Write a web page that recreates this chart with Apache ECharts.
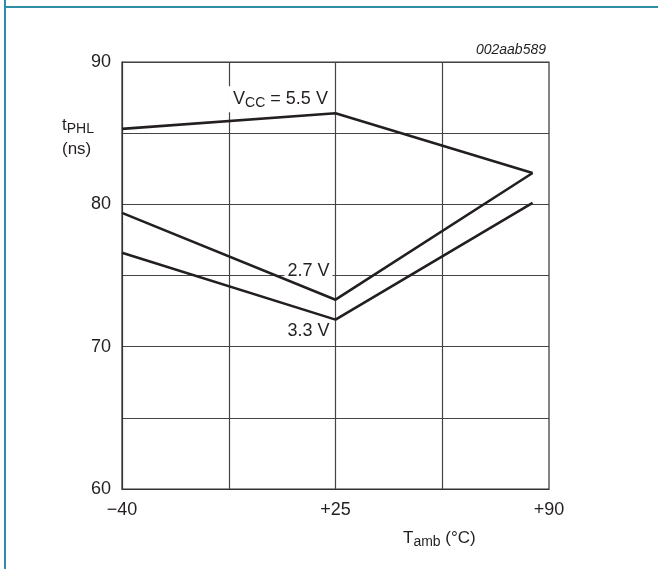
<!DOCTYPE html>
<html>
<head>
<meta charset="utf-8">
<script src="https://cdn.jsdelivr.net/npm/echarts@6/dist/echarts.min.js"></script>
<style>
html,body{margin:0;padding:0;background:#fff;}
#c{width:658px;height:569px;}
</style>
</head>
<body>
<div id="c"></div>
<script>
// Data
const tempC = [-40, 25, 85];
const tphl55 = [85.3, 86.4, 82.2];   // VCC = 5.5 V
const tphl27 = [79.4, 73.3, 82.2];   // VCC = 2.7 V
const tphl33 = [76.6, 71.9, 80.1];   // VCC = 3.3 V
const xGridValues = [-7.5, 25, 57.5];
const xLabelValues = [-40, 25, 90];
const yLabelValues = [60, 70, 80, 90];

const FONT = '"Liberation Sans", Arial, Helvetica, sans-serif';
const INK = '#231f20';
const GRIDC = '#444';
const chart = echarts.init(document.getElementById('c'), null, {renderer: 'canvas'});

function pts(ys) { return tempC.map((t, i) => [t, ys[i]]); }

function lineSeries(name, ys, mark) {
  const s = {
    name: name, type: 'line', data: pts(ys), symbol: 'none', silent: true,
    lineStyle: {color: INK, width: 2.6}, animation: false, z: 5
  };
  if (mark) s.markPoint = mark;
  return s;
}

function note(coord, text, offset, pad) {
  return {
    symbol: 'circle', symbolSize: 0, animation: false, silent: true,
    data: [{coord: coord}],
    label: {
      show: true, position: 'inside', offset: offset,
      formatter: text,
      color: INK, fontFamily: FONT, fontSize: 18,
      backgroundColor: '#fff', padding: pad || [2, 3, 1, 3],
      rich: {
        sub: {fontSize: 14, fontFamily: FONT, color: INK, padding: [8, 0, 0, 0]},
        n: {fontSize: 18, fontFamily: FONT, color: INK}
      }
    }
  };
}

const gridSeries = {
  type: 'line', data: [], silent: true, z: 1,
  markLine: {
    symbol: 'none', silent: true, animation: false,
    label: {show: false},
    lineStyle: {color: GRIDC, width: 1.2, type: 'solid'},
    data: xGridValues.map(v => ({xAxis: v}))
  }
};

const option = {
  backgroundColor: '#fff',
  animation: false,
  grid: {left: 122, top: 62, width: 427, height: 427, show: true, borderColor: '#333', borderWidth: 1.2, backgroundColor: 'transparent'},
  xAxis: {
    type: 'value', min: -40, max: 90,
    axisLine: {show: true, onZero: false, lineStyle: {color: '#333', width: 1.2}},
    axisTick: {show: false},
    splitLine: {show: false},
    axisLabel: {
      customValues: xLabelValues, margin: 12, color: INK, fontFamily: FONT, fontSize: 18,
      formatter: v => (v > 0 ? '+' + v : (v < 0 ? '\u2212' + Math.abs(v) : String(v)))
    }
  },
  yAxis: {
    type: 'value', min: 60, max: 90, interval: 5,
    axisLine: {show: true, onZero: false, lineStyle: {color: '#333', width: 1.2}},
    axisTick: {show: false},
    splitLine: {show: true, lineStyle: {color: GRIDC, width: 1.2}},
    axisLabel: {
      margin: 11, color: INK, fontFamily: FONT, fontSize: 18,
      formatter: v => (yLabelValues.indexOf(v) >= 0 ? String(v) : '')
    }
  },
  series: [
    gridSeries,
    lineSeries('5.5 V', tphl55, note([tempC[1], tphl55[1]], '{n|V}{sub|CC}{n| = 5.5 V}', [-56, -14], [2, 3, 2, 5])),
    lineSeries('2.7 V', tphl27, note([tempC[1], tphl27[1]], '2.7 V', [-27, -29])),
    lineSeries('3.3 V', tphl33, note([tempC[1], tphl33[1]], '3.3 V', [-27, 11]))
  ],
  graphic: [
    {type: 'line', shape: {x1: 5, y1: 0, x2: 5, y2: 569}, style: {stroke: '#2f8ea5', lineWidth: 2}, silent: true},
    {type: 'line', shape: {x1: 5, y1: 7, x2: 658, y2: 7}, style: {stroke: '#2f8ea5', lineWidth: 2}, silent: true},
    {type: 'text', right: 658 - 546, top: 43, silent: true,
     style: {text: '002aab589', font: 'italic 14px ' + FONT, fill: INK}},
    {type: 'text', left: 62, top: 115, silent: true,
     style: {text: '{n|t}{sub|PHL}\n{n|(ns)}', fill: INK, font: '17px ' + FONT,
       rich: {n: {fontSize: 17, fontFamily: FONT, fill: INK, lineHeight: 24},
              sub: {fontSize: 14, fontFamily: FONT, fill: INK, padding: [7, 0, 0, 0], lineHeight: 24}}}},
    {type: 'text', left: 403, top: 530, silent: true,
     style: {text: '{n|T}{sub|amb}{n| (\u00b0C)}', fill: INK, font: '17px ' + FONT,
       rich: {n: {fontSize: 17, fontFamily: FONT, fill: INK},
              sub: {fontSize: 14, fontFamily: FONT, fill: INK, padding: [7, 0, 0, 0]}}}}
  ]
};
chart.setOption(option);
</script>
</body>
</html>
